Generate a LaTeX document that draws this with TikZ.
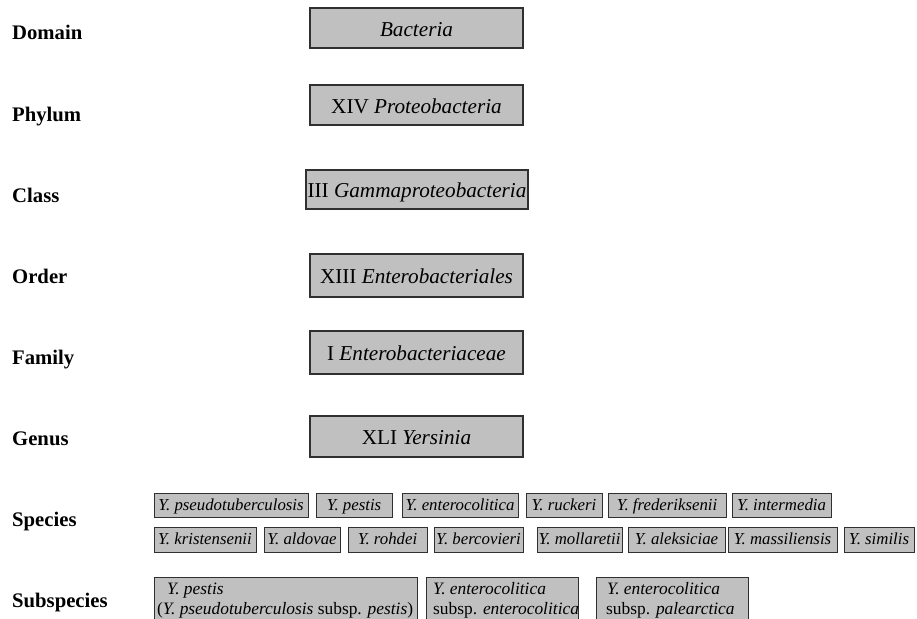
\documentclass[tikz,border=0pt]{standalone}
\usepackage{fontspec}
\setmainfont{Liberation Serif}
\definecolor{boxfill}{HTML}{C0C0C0}
\definecolor{boxline}{HTML}{303030}
\tikzset{
  rank/.style={anchor=base west, inner sep=0pt, font=\fontsize{20.7}{24}\selectfont\bfseries},
  bigbox/.style={draw=boxline, fill=boxfill, line width=1.1pt, inner sep=0pt,
    minimum width=213pt, text height=17pt, text depth=0.3pt,
    font=\fontsize{21.2}{24}\selectfont},
  spbox/.style={draw=boxline, fill=boxfill, line width=1pt, inner sep=0pt,
    text height=11.2pt, text depth=0.3pt,
    font=\fontsize{16.8}{19}\selectfont\itshape},
  subbox/.style={draw=boxline, fill=boxfill, line width=1pt},
  subtext/.style={anchor=base west, inner sep=0pt, font=\fontsize{17.4}{20}\selectfont},
}
\begin{document}
\begin{tikzpicture}[x=1pt,y=-1pt]
\useasboundingbox (0,0) rectangle (917,618);
\clip (0,0) rectangle (917,618);
% rank labels
\node[rank] (lDomain) at (12,40) {Domain};
\node[rank] (lPhylum) at (12,121) {Phylum};
\node[rank] (lClass) at (12,202) {Class};
\node[rank] (lOrder) at (12,283) {Order};
\node[rank] (lFamily) at (12,364) {Family};
\node[rank] (lGenus) at (12,445) {Genus};
\node[rank] (lSpecies) at (12,526) {Species};
\node[rank] (lSubspecies) at (12,607) {Subspecies};
% taxon boxes
\node[bigbox, minimum height=40pt] (dom) at (416.5,28) {\textit{Bacteria}};
\node[bigbox, minimum height=40pt] (phy) at (416.5,105) {XIV \textit{Proteobacteria}};
\node[bigbox, minimum width=222pt, minimum height=39pt] (cls) at (417,189.5) {III \textit{Gammaproteobacteria}};
\node[bigbox, minimum height=43pt] (ord) at (416.5,275.5) {XIII \textit{Enterobacteriales}};
\node[bigbox, minimum height=43pt] (fam) at (416.5,352.5) {I \textit{Enterobacteriaceae}};
\node[bigbox, minimum height=41pt] (gen) at (416.5,436.5) {XLI \textit{Yersinia}};
% species row 1
\node[spbox, minimum height=24pt, minimum width=154pt] (s1) at (231,505) {Y. pseudotuberculosis};
\node[spbox, minimum height=24pt, minimum width=76pt] (s2) at (354,505) {Y. pestis};
\node[spbox, minimum height=24pt, minimum width=116pt] (s3) at (460,505) {Y. enterocolitica};
\node[spbox, minimum height=24pt, minimum width=76pt] (s4) at (564,505) {Y. ruckeri};
\node[spbox, minimum height=24pt, minimum width=118pt] (s5) at (667,505) {Y. frederiksenii};
\node[spbox, minimum height=24pt, minimum width=99pt] (s6) at (781.5,505) {Y. intermedia};
% species row 2
\node[spbox, minimum height=25pt, minimum width=102pt] (t1) at (205,539.5) {Y. kristensenii};
\node[spbox, minimum height=25pt, minimum width=76pt] (t2) at (302,539.5) {Y. aldovae};
\node[spbox, minimum height=25pt, minimum width=79pt] (t3) at (387.5,539.5) {Y. rohdei};
\node[spbox, minimum height=25pt, minimum width=89pt] (t4) at (478.5,539.5) {Y. bercovieri};
\node[spbox, minimum height=25pt, minimum width=85pt] (t5) at (579.5,539.5) {Y. mollaretii};
\node[spbox, minimum height=25pt, minimum width=97pt] (t6) at (676.5,539.5) {Y. aleksiciae};
\node[spbox, minimum height=25pt, minimum width=109pt] (t7) at (782.5,539.5) {Y. massiliensis};
\node[spbox, minimum height=25pt, minimum width=70pt] (t8) at (879,539.5) {Y. similis};
% subspecies boxes
\draw[subbox] (154,577) rectangle (417,630);
\draw[subbox] (426,577) rectangle (578,630);
\draw[subbox] (596,577) rectangle (748,630);
\node[subtext] (u1a) at (167,594.5) {\textit{Y. pestis}};
\node[subtext] (u1b) at (157,614) {(\textit{Y. pseudotuberculosis} subsp. \textit{pestis})};
\node[subtext] (u2a) at (433,594.5) {\textit{Y. enterocolitica}};
\node[subtext] (u2b) at (433,614) {subsp. \textit{enterocolitica}};
\node[subtext] (u3a) at (607,594.5) {\textit{Y. enterocolitica}};
\node[subtext] (u3b) at (606,614) {subsp. \textit{palearctica}};
\end{tikzpicture}
\end{document}
